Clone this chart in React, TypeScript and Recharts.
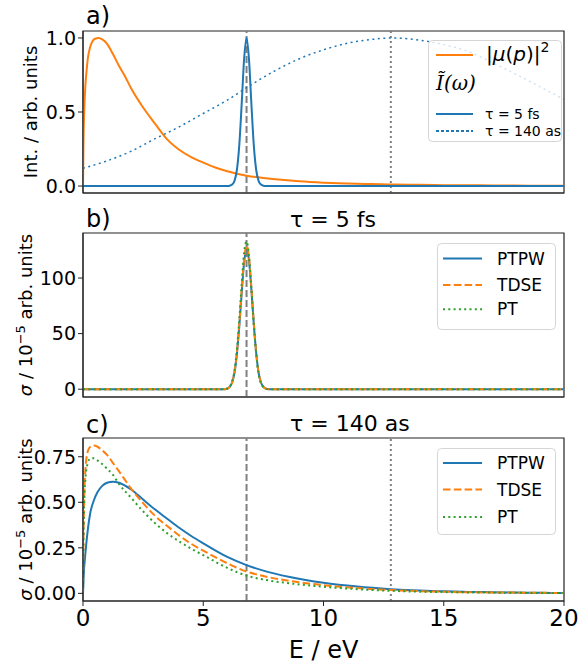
import React from "react";
import { LineChart, Line, XAxis, YAxis, ReferenceLine, ReferenceArea, Legend, Label } from "recharts";

const BLUE = "#1f77b4";
const ORANGE = "#ff7f0e";
const GREEN = "#2ca02c";
const GRAY = "#808080";
const INK = "#222";
const FONT = "'DejaVu Sans', sans-serif";

// x ticks shared by all panels (E / eV)
const xTicks = [0, 5, 10, 15, 20];

// panel a: |mu(p)|^2
const muE = [0, 0.02, 0.05, 0.1, 0.15, 0.2, 0.3, 0.4, 0.5, 0.65, 0.8, 1.0, 1.25, 1.5, 1.75, 2.0, 2.5, 3.0, 3.5, 4.0, 4.5, 5.0, 5.5, 6.0, 6.8, 7.5, 8, 9, 10, 11, 12, 13, 14, 15, 16, 17, 18, 19, 20];
const muVal = [0, 0.3, 0.5, 0.68, 0.78, 0.86, 0.94, 0.98, 0.995, 1.0, 0.99, 0.96, 0.89, 0.81, 0.74, 0.66, 0.53, 0.42, 0.315, 0.245, 0.195, 0.158, 0.125, 0.1, 0.07, 0.055, 0.046, 0.032, 0.023, 0.017, 0.013, 0.01, 0.008, 0.006, 0.005, 0.004, 0.003, 0.0025, 0.002];

// spectrum of the pulses
const pulseE = [0, 5.8, 6.0, 6.1, 6.2, 6.3, 6.4, 6.5, 6.6, 6.7, 6.8, 6.9, 7.0, 7.1, 7.2, 7.3, 7.4, 7.5, 7.6, 7.8, 20];
const spec5fs = [0, 0, 0, 0.002, 0.01, 0.035, 0.11, 0.28, 0.56, 0.86, 1.0, 0.86, 0.56, 0.28, 0.11, 0.035, 0.01, 0.002, 0, 0, 0];
const broadE = [0, 1, 2, 3, 4, 5, 6, 7, 8, 9, 10, 11, 12, 12.8, 14, 15, 16, 17, 18, 19, 20];
const spec140as = [0.12, 0.17, 0.235, 0.32, 0.4, 0.49, 0.58, 0.685, 0.78, 0.86, 0.92, 0.965, 0.99, 1.0, 0.985, 0.955, 0.91, 0.835, 0.755, 0.67, 0.586];

// panel b: tau = 5 fs (on pulseE)
const ptpw5fs = [0, 0, 0.5, 2, 6, 15, 32, 57, 87, 114, 126, 116, 90, 59, 33, 15, 6, 2, 0.5, 0, 0];
const tdse5fs = [0, 0, 0.5, 2, 6, 15.5, 33, 59, 90, 117, 129, 119, 92, 60, 33, 15, 6, 2, 0.5, 0, 0];
const pt5fs = [0, 0, 0.6, 2.3, 7, 17, 36, 63, 95, 123, 133, 120, 91, 59, 32, 14, 5.5, 1.8, 0.5, 0, 0];

// panel c: tau = 140 as
const cE = [0, 0.03, 0.1, 0.2, 0.3, 0.45, 0.6, 0.8, 1.0, 1.25, 1.5, 2.0, 2.5, 3.0, 3.5, 4.0, 4.5, 5.0, 6.0, 6.8, 7.5, 8.6, 10, 11.4, 12.8, 14, 15, 16, 17, 18, 19, 20];
const ptpw140 = [0, 0.1, 0.22, 0.35, 0.44, 0.51, 0.555, 0.59, 0.607, 0.613, 0.607, 0.57, 0.515, 0.46, 0.41, 0.36, 0.315, 0.275, 0.2, 0.155, 0.125, 0.09, 0.058, 0.037, 0.023, 0.015, 0.011, 0.008, 0.006, 0.004, 0.003, 0.002];
const tdse140 = [0, 0.4, 0.68, 0.78, 0.805, 0.812, 0.805, 0.785, 0.76, 0.715, 0.67, 0.575, 0.495, 0.425, 0.37, 0.318, 0.272, 0.235, 0.165, 0.12, 0.095, 0.068, 0.045, 0.029, 0.018, 0.012, 0.009, 0.006, 0.005, 0.004, 0.003, 0.002];
const pt140 = [0, 0.38, 0.63, 0.715, 0.74, 0.742, 0.73, 0.71, 0.685, 0.65, 0.6, 0.525, 0.45, 0.385, 0.33, 0.285, 0.245, 0.21, 0.14, 0.097, 0.076, 0.055, 0.036, 0.023, 0.014, 0.009, 0.007, 0.005, 0.004, 0.003, 0.002, 0.0015];

const rows = (xs: number[], ys: number[]) => xs.map((x, i) => ({ E: x, v: ys[i] }));

const axisProps = {
  axisLine: { stroke: INK },
  tickLine: { stroke: INK },
  tickSize: 5,
};

const yLabel = (x: number, content: React.ReactNode) => (props: any) => {
  const vb = props.viewBox;
  const cy = vb.y + vb.height / 2;
  return (
    <text x={x} y={cy} transform={`rotate(-90, ${x}, ${cy})`} textAnchor="middle" fontSize={18} fill="#000">
      {content}
    </text>
  );
};

const sigmaLabel = (
  <>
    <tspan fontStyle="italic">σ</tspan>
    <tspan> / 10</tspan>
    <tspan fontSize={13} dy={-7}>−5</tspan>
    <tspan dy={7}> arb. units</tspan>
  </>
);

// panel letter + title, placed relative to the top of the plot area
const titleLabel = (letter: string, letterDy: number, title: string | null, titleDy: number) => (props: any) => {
  const top = props.viewBox.y;
  return (
    <g>
      <text x={86} y={top + letterDy} fontSize={24} fill="#000">{letter}</text>
      {title && <text x={290} y={top + titleDy} fontSize={22} fill="#000">{title}</text>}
    </g>
  );
};

function LegendA() {
  return (
    <svg width={134} height={102} style={{ display: "block" }}>
      <rect x={0.5} y={0.5} width={133} height={101} rx={4} fill="#fff" fillOpacity={0.8} stroke="#d5d5d5" />
      <line x1={8} x2={45} y1={15} y2={15} stroke={ORANGE} strokeWidth={2} />
      <text x={58} y={21} fontSize={20} fill="#000">
        |<tspan fontStyle="italic">μ</tspan>(<tspan fontStyle="italic">p</tspan>)|
        <tspan fontSize={14} dy={-9}>2</tspan>
      </text>
      <text x={8} y={50} fontSize={20} fill="#000" fontFamily="'DejaVu Serif', serif" fontStyle="italic">
        Ĩ(ω)
      </text>
      <line x1={8} x2={45} y1={74} y2={74} stroke={BLUE} strokeWidth={2} />
      <text x={57} y={79} fontSize={14} fill="#000">τ = 5 fs</text>
      <line x1={8} x2={45} y1={91} y2={91} stroke={BLUE} strokeWidth={2} strokeDasharray="3 2" />
      <text x={57} y={96} fontSize={14} fill="#000">τ = 140 as</text>
    </svg>
  );
}

function LegendBC({ rowsY }: { rowsY: number[] }) {
  const items = [
    { name: "PTPW", color: BLUE, dash: undefined },
    { name: "TDSE", color: ORANGE, dash: "7.5 3.3" },
    { name: "PT", color: GREEN, dash: "2 3.3" },
  ];
  return (
    <svg width={119} height={87} style={{ display: "block" }}>
      <rect x={0.5} y={0.5} width={118} height={86} rx={4} fill="#fff" fillOpacity={0.8} stroke="#d5d5d5" />
      {items.map((it, i) => (
        <g key={it.name}>
          <line x1={6} x2={45} y1={rowsY[i]} y2={rowsY[i]} stroke={it.color} strokeWidth={2} strokeDasharray={it.dash} />
          <text x={60} y={rowsY[i] + 6} fontSize={17} fill="#000">{it.name}</text>
        </g>
      ))}
    </svg>
  );
}

// matplotlib-style box around the axes
const frame = (y1: number, y2: number) => (
  <ReferenceArea x1={0} x2={20} y1={y1} y2={y2} fill="none" stroke={INK} strokeWidth={1.2} />
);

export default function App() {
  return (
    <div style={{ position: "absolute", left: 0, top: 0, width: 582, height: 666, background: "#fff", fontFamily: FONT }}>
      {/* a) */}
      <div style={{ position: "absolute", left: 0, top: 0 }}>
        <LineChart width={582} height={205} margin={{ top: 31, right: 18, bottom: 0, left: 0 }}>
          <XAxis dataKey="E" type="number" domain={[0, 20]} ticks={xTicks} allowDataOverflow height={12} tick={false} {...axisProps} />
          <YAxis type="number" domain={[-0.047, 1.047]} ticks={[0, 0.5, 1]} allowDataOverflow width={83} tickMargin={2}
            tick={{ fill: "#000", fontSize: 19 }} tickFormatter={(v: number) => v.toFixed(1)} {...axisProps}>
            <Label content={yLabel(37, "Int. / arb. units")} />
            <Label content={titleLabel("a)", -7, null, 0)} />
          </YAxis>
          <ReferenceLine x={6.8} stroke={GRAY} strokeWidth={2} strokeDasharray="7 3" />
          <ReferenceLine x={12.8} stroke={GRAY} strokeWidth={2} strokeDasharray="2 3" />
          <Line data={rows(broadE, spec140as)} dataKey="v" type="monotone" stroke={BLUE} strokeWidth={1.5} strokeDasharray="2 3.5" dot={false} isAnimationActive={false} />
          <Line data={rows(muE, muVal)} dataKey="v" type="monotone" stroke={ORANGE} strokeWidth={2} dot={false} isAnimationActive={false} />
          <Line data={rows(pulseE, spec5fs)} dataKey="v" type="monotone" stroke={BLUE} strokeWidth={2} dot={false} isAnimationActive={false} />
          {frame(-0.047, 1.047)}
          <Legend layout="horizontal" verticalAlign="middle" align="center" content={() => <LegendA />}
            wrapperStyle={{ left: 428, top: 40, width: 134, height: 102 }} />
        </LineChart>
      </div>

      {/* b) */}
      <div style={{ position: "absolute", left: 0, top: 205 }}>
        <LineChart width={582} height={200} margin={{ top: 28, right: 18, bottom: 0, left: 0 }}>
          <XAxis dataKey="E" type="number" domain={[0, 20]} ticks={xTicks} allowDataOverflow height={8} tick={false} {...axisProps} />
          <YAxis type="number" domain={[-7, 140.5]} ticks={[0, 50, 100]} allowDataOverflow width={83} tickMargin={2}
            tick={{ fill: "#000", fontSize: 19 }} {...axisProps}>
            <Label content={yLabel(32, sigmaLabel)} />
            <Label content={titleLabel("b)", -6, "τ = 5 fs", -6)} />
          </YAxis>
          <ReferenceLine x={6.8} stroke={GRAY} strokeWidth={2} strokeDasharray="7 3" />
          <Line data={rows(pulseE, ptpw5fs)} dataKey="v" type="monotone" stroke={BLUE} strokeWidth={2} dot={false} isAnimationActive={false} />
          <Line data={rows(pulseE, tdse5fs)} dataKey="v" type="monotone" stroke={ORANGE} strokeWidth={2} strokeDasharray="7.5 3.3" dot={false} isAnimationActive={false} />
          <Line data={rows(pulseE, pt5fs)} dataKey="v" type="monotone" stroke={GREEN} strokeWidth={2} strokeDasharray="2 3.3" dot={false} isAnimationActive={false} />
          {frame(-7, 140.5)}
          <Legend layout="horizontal" verticalAlign="middle" align="center" content={() => <LegendBC rowsY={[15.6, 42, 66.3]} />}
            wrapperStyle={{ left: 437, top: 38, width: 119, height: 87 }} />
        </LineChart>
      </div>

      {/* c) */}
      <div style={{ position: "absolute", left: 0, top: 405 }}>
        <LineChart width={582} height={261} margin={{ top: 33, right: 18, bottom: 0, left: 0 }}>
          <XAxis dataKey="E" type="number" domain={[0, 20]} ticks={xTicks} allowDataOverflow height={65} tickMargin={4}
            tick={{ fill: "#000", fontSize: 23 }} {...axisProps}>
            <Label content={(p: any) => (
              <text x={323.5} y={p.viewBox.y + 57} textAnchor="middle" fontSize={24} fill="#000">E / eV</text>
            )} />
          </XAxis>
          <YAxis type="number" domain={[-0.042, 0.853]} ticks={[0, 0.25, 0.5, 0.75]} allowDataOverflow width={83} tickMargin={2}
            tick={{ fill: "#000", fontSize: 19 }} tickFormatter={(v: number) => v.toFixed(2)} {...axisProps}>
            <Label content={yLabel(32, sigmaLabel)} />
            <Label content={titleLabel("c)", -5, "τ = 140 as", -7)} />
          </YAxis>
          <ReferenceLine x={6.8} stroke={GRAY} strokeWidth={2} strokeDasharray="7 3" />
          <ReferenceLine x={12.8} stroke={GRAY} strokeWidth={2} strokeDasharray="2 3" />
          <Line data={rows(cE, ptpw140)} dataKey="v" type="monotone" stroke={BLUE} strokeWidth={2} dot={false} isAnimationActive={false} />
          <Line data={rows(cE, tdse140)} dataKey="v" type="monotone" stroke={ORANGE} strokeWidth={2} strokeDasharray="7.5 3.3" dot={false} isAnimationActive={false} />
          <Line data={rows(cE, pt140)} dataKey="v" type="monotone" stroke={GREEN} strokeWidth={2} strokeDasharray="2 3.3" dot={false} isAnimationActive={false} />
          {frame(-0.042, 0.853)}
          <Legend layout="horizontal" verticalAlign="middle" align="center" content={() => <LegendBC rowsY={[15, 41.6, 69]} />}
            wrapperStyle={{ left: 437, top: 43, width: 119, height: 87 }} />
        </LineChart>
      </div>
    </div>
  );
}
